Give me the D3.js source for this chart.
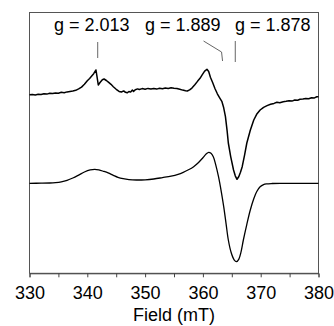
<!DOCTYPE html>
<html>
<head>
<meta charset="utf-8">
<script src="https://cdn.jsdelivr.net/npm/d3@7"></script>
<style>
  body { margin: 0; background: #fff; }
  svg { display: block; }
  text { font-family: "Liberation Sans", Arial, sans-serif; fill: #000; }
</style>
</head>
<body>
<svg id="chart" width="334" height="326"></svg>
<script>
// field (mT) and intensity (arb. units)
var expField = [330.0, 330.5, 331.0, 331.5, 332.0, 332.5, 333.0, 333.5, 334.0, 334.5,
  335.0, 335.5, 336.0, 336.5, 337.0, 337.5, 338.0, 338.5, 339.0, 339.5,
  340.0, 340.4, 340.8, 341.1, 341.5, 341.7, 341.9, 342.2, 342.6, 342.9,
  343.3, 343.7, 344.1, 344.5, 345.0, 345.5, 345.9, 346.3, 346.6, 346.9,
  347.2, 347.5, 347.8, 348.0, 348.3, 348.7, 349.0, 349.5, 350.0, 350.5,
  351.0, 351.5, 352.0, 352.5, 353.0, 353.5, 354.0, 354.5, 355.0, 355.5,
  356.0, 356.5, 357.0, 357.3, 357.7, 358.1, 358.6, 359.1, 359.5, 359.9,
  360.3, 360.7, 361.0, 361.3, 361.7, 362.1, 362.5, 362.9, 363.3, 363.6,
  363.9, 364.2, 364.4, 364.8, 365.3, 365.6, 365.9, 366.2, 366.5, 366.8,
  367.2, 367.6, 368.2, 368.8, 369.3, 369.9, 370.5, 371.1, 371.7, 372.3,
  372.8, 373.3, 373.9, 374.4, 374.9, 375.4, 375.9, 376.4, 376.8, 377.3,
  377.8, 378.3, 378.8, 379.3, 379.7, 380.0];
var expSignal = [0.6, 0.9, 0.4, 1.1, 0.8, 1.6, 1.2, 2.0, 1.7, 2.4,
  2.1, 3.0, 2.6, 3.4, 3.9, 4.3, 5.0, 6.4, 8.2, 11.0,
  14.6, 16.8, 19.5, 21.6, 25.3, 18.0, 10.3, 12.8, 15.5, 16.3,
  14.8, 12.9, 11.0, 8.6, 6.0, 3.9, 3.3, 4.4, 3.0, 2.5,
  3.8, 3.2, 5.2, 3.9, 5.6, 6.4, 5.8, 6.7, 6.1, 6.9,
  6.3, 6.8, 6.2, 7.0, 6.5, 7.3, 6.9, 7.6, 7.1, 6.7,
  6.0, 5.2, 4.5, 4.3, 5.4, 7.2, 10.5, 14.2, 17.0, 20.6,
  24.2, 26.0, 23.8, 18.0, 12.5, 6.5, 1.5, -2.5, -6.4, -12.5,
  -21.4, -36.0, -47.7, -61.0, -74.7, -80.5, -84.0, -81.5, -77.0, -71.4,
  -60.0, -47.7, -35.0, -24.7, -19.0, -14.7, -12.0, -10.3, -9.0, -8.1,
  -7.0, -7.4, -6.4, -6.0, -5.4, -5.8, -4.7, -4.9, -4.0, -3.7,
  -3.2, -3.5, -2.4, -2.6, -1.5, -1.4];

var simField = [330.0, 332.0, 333.5, 334.5, 335.5, 336.5, 337.5, 338.5, 339.5, 340.5,
  341.3, 342.0, 342.8, 343.6, 344.5, 345.3, 346.2, 347.2, 348.5, 350.0,
  351.5, 353.0, 354.5, 355.7, 356.6, 357.5, 358.4, 359.2, 360.0, 360.6,
  361.0, 361.4, 361.8, 362.2, 362.7, 363.2, 363.6, 364.0, 364.4, 364.9,
  365.4, 365.8, 366.2, 366.6, 367.0, 367.6, 368.2, 368.8, 369.3, 369.9,
  370.5, 371.0, 372.0, 373.4, 376.0, 380.0];
var simSignal = [0, 0.1, 0.3, 0.7, 1.5, 3.0, 5.3, 8.2, 11.3, 13.4,
  14.0, 13.4, 12.0, 10.4, 8.0, 6.0, 4.6, 3.7, 3.3, 3.5,
  4.3, 5.7, 7.2, 9.0, 11.0, 13.5, 16.6, 20.5, 25.5, 29.5,
  31.0, 30.0, 26.6, 19.0, 6.6, -9.0, -23.4, -40.0, -56.7, -69.5,
  -76.5, -78.4, -76.0, -68.5, -56.7, -41.0, -26.7, -15.5, -8.4, -3.5,
  -1.3, -0.6, -0.2, 0, 0, 0];

var gLabels = ['g = 2.013', 'g = 1.889', 'g = 1.878'];
var gField = [341.8, 363.4, 365.6];

var expOffset = 88;   // vertical offset of the upper (experimental) trace

(function() {
  var svg = d3.select('#chart'),
      x0 = 29.5, x1 = 318.5, y0 = 12.5, y1 = 273.3;

  var x = d3.scaleLinear().domain([330, 380]).range([x0, x1]);
  var y = d3.scaleLinear().domain([-90, 171]).range([y1, y0 - 0.2]);

  // frame
  svg.append('rect')
    .attr('x', x0).attr('y', y0)
    .attr('width', x1 - x0).attr('height', y1 - y0)
    .attr('fill', 'none').attr('stroke', '#555').attr('stroke-width', 1);

  // bottom axis
  var axis = svg.append('g')
    .attr('transform', 'translate(0,' + y1 + ')')
    .call(d3.axisBottom(x).ticks(10).tickSize(4).tickFormat(function(d) {
      return d % 10 === 0 ? d : '';
    }));
  axis.select('.domain').attr('stroke', '#444');
  axis.selectAll('.tick line').attr('stroke', '#444');
  axis.selectAll('.tick text')
    .attr('y', 26).attr('dy', 0)
    .style('font-size', '18px')
    .style('font-family', '"Liberation Sans", Arial, sans-serif')
    .attr('fill', '#000');

  svg.append('text')
    .attr('x', (x0 + x1) / 2).attr('y', 321)
    .attr('text-anchor', 'middle')
    .style('font-size', '18px')
    .text('Field (mT)');

  var line = d3.line()
    .x(function(d) { return x(d[0]); })
    .y(function(d) { return y(d[1]); });

  svg.append('path')
    .datum(expField.map(function(f, i) { return [f, expSignal[i] + expOffset]; }))
    .attr('d', line)
    .attr('fill', 'none').attr('stroke', '#000').attr('stroke-width', 1.5)
    .attr('stroke-linejoin', 'round');

  svg.append('path')
    .datum(simField.map(function(f, i) { return [f, simSignal[i]]; }))
    .attr('d', line.curve(d3.curveCatmullRom))
    .attr('fill', 'none').attr('stroke', '#000').attr('stroke-width', 1.3);

  // g-value labels and their leaders
  var labelX = [54, 145, 235];
  gLabels.forEach(function(lab, i) {
    svg.append('text')
      .attr('x', labelX[i]).attr('y', 30.5)
      .style('font-size', '18px')
      .text(lab);
  });

  var mx = gField.map(function(f) { return x(f); });
  svg.append('path')
    .attr('d', 'M' + mx[0] + ',42V58')
    .attr('fill', 'none').attr('stroke', '#666');
  svg.append('path')
    .attr('d', 'M' + (mx[1] - 19) + ',41L' + (mx[1] - 1) + ',52L' + mx[1] + ',61')
    .attr('fill', 'none').attr('stroke', '#666');
  svg.append('path')
    .attr('d', 'M' + mx[2] + ',41V62')
    .attr('fill', 'none').attr('stroke', '#666');
})();
</script>
</body>
</html>
